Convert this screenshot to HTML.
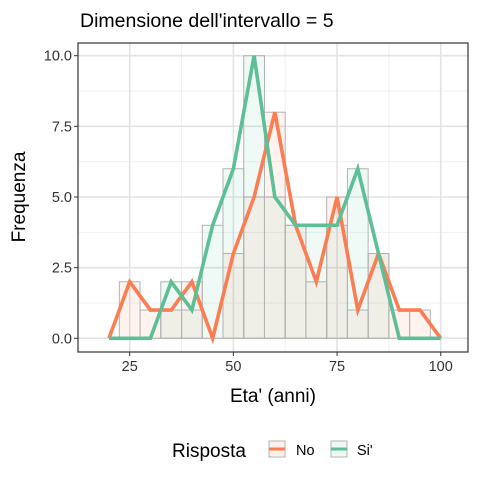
<!DOCTYPE html>
<html><head><meta charset="utf-8"><style>
body{margin:0;background:#fff;}
svg{display:block;font-family:"Liberation Sans",Arial,sans-serif;}
</style></head><body>
<svg id="c" width="480" height="480"></svg>
<script>
const mids=[20,25,30,35,40,45,50,55,60,65,70,75,80,85,90,95,100];
const noVals=[0,2,1,1,2,0,3,5,8,4,2,5,1,3,1,1,0];
const siVals=[0,0,0,2,1,4,6,10,5,4,4,4,6,3,0,0,0];
const xTicks=[25,50,75,100];
const yTicks=[0,2.5,5,7.5,10];
const yTickLabels=["0.0","2.5","5.0","7.5","10.0"];
const NS='http://www.w3.org/2000/svg';
const svg=document.getElementById('c');
const L=78,R=468,T=43,B=352;
const X=v=>129.7+(v-25)*4.147;
const Y=v=>338.3-v*28.26;
function el(t,a,p){const e=document.createElementNS(NS,t);for(const k in a)e.setAttribute(k,a[k]);(p||svg).appendChild(e);return e;}
el('rect',{x:L,y:T,width:R-L,height:B-T,fill:'#fff'});
[37.5,62.5,87.5].forEach(v=>{const g=el('line',{x1:X(v),x2:X(v),y1:T,y2:B,stroke:'#f0f0f0','stroke-width':1});});
[1.25,3.75,6.25,8.75].forEach(v=>{const g=el('line',{x1:L,x2:R,y1:Y(v),y2:Y(v),stroke:'#f0f0f0','stroke-width':1});});
xTicks.forEach(v=>{const g=el('line',{x1:X(v),x2:X(v),y1:T,y2:B,stroke:'#e3e3e3','stroke-width':1.6});});
yTicks.forEach(v=>{const g=el('line',{x1:L,x2:R,y1:Y(v),y2:Y(v),stroke:'#e3e3e3','stroke-width':1.6});});
function bars(vals,fill,name){mids.forEach((m,i)=>{if(vals[i]<=0)return;const r=el('rect',{x:X(m-2.5),y:Y(vals[i]),width:X(m+2.5)-X(m-2.5),height:Y(0)-Y(vals[i]),fill:fill,stroke:'#b3b3b3','stroke-width':1});});}
bars(noVals,'rgba(252,141,98,0.1)','bar-no');
bars(siVals,'rgba(102,194,165,0.1)','bar-si');
function line(vals,col,name){const p=el('polyline',{points:mids.map((m,i)=>X(m)+','+Y(vals[i])).join(' '),fill:'none',stroke:col,'stroke-width':3.6,'stroke-linejoin':'miter'});}
line(noVals,'#fc7d52','line-no');
line(siVals,'#5dbf95','line-si');
const bd=el('rect',{x:L,y:T,width:R-L,height:B-T,fill:'none',stroke:'#333','stroke-width':1.2});

xTicks.forEach(v=>{el('line',{x1:X(v),x2:X(v),y1:B,y2:B+4,stroke:'#333'});const t=el('text',{x:X(v),y:B+19,'text-anchor':'middle','font-size':14.5,fill:'#333'});t.textContent=v;});
yTicks.forEach((v,i)=>{el('line',{x1:L-4,x2:L,y1:Y(v),y2:Y(v),stroke:'#333'});const t=el('text',{x:L-6,y:Y(v)+5,'text-anchor':'end','font-size':14.5,fill:'#333'});t.textContent=yTickLabels[i];});
</script>
<div style="position:absolute;left:0;top:0;width:480px;height:480px;pointer-events:none">
<svg width="480" height="480">
<text x="80" y="27" font-size="19.5" fill="#000">Dimensione dell'intervallo = 5</text>
<text x="273" y="402" font-size="19" text-anchor="middle" fill="#000">Eta' (anni)</text>
<text transform="translate(25,197) rotate(-90)" font-size="19" text-anchor="middle" fill="#000">Frequenza</text>
<g>
<text x="172" y="457" font-size="19" fill="#000">Risposta</text>
<g>
<rect x="269" y="441" width="16" height="16" fill="#fdf1ec" stroke="#b3b3b3"/>
<line x1="269" x2="285" y1="449" y2="449" stroke="#fc7d52" stroke-width="3"/>
<text x="296" y="455" font-size="14.5" fill="#000">No</text></g>
<g>
<rect x="331" y="441" width="16" height="16" fill="#eef8f4" stroke="#b3b3b3"/>
<line x1="331" x2="347" y1="449" y2="449" stroke="#5dbf95" stroke-width="3"/>
<text x="357" y="455" font-size="14.5" fill="#000">Si'</text></g>
</g>
</svg></div>
</body></html>
